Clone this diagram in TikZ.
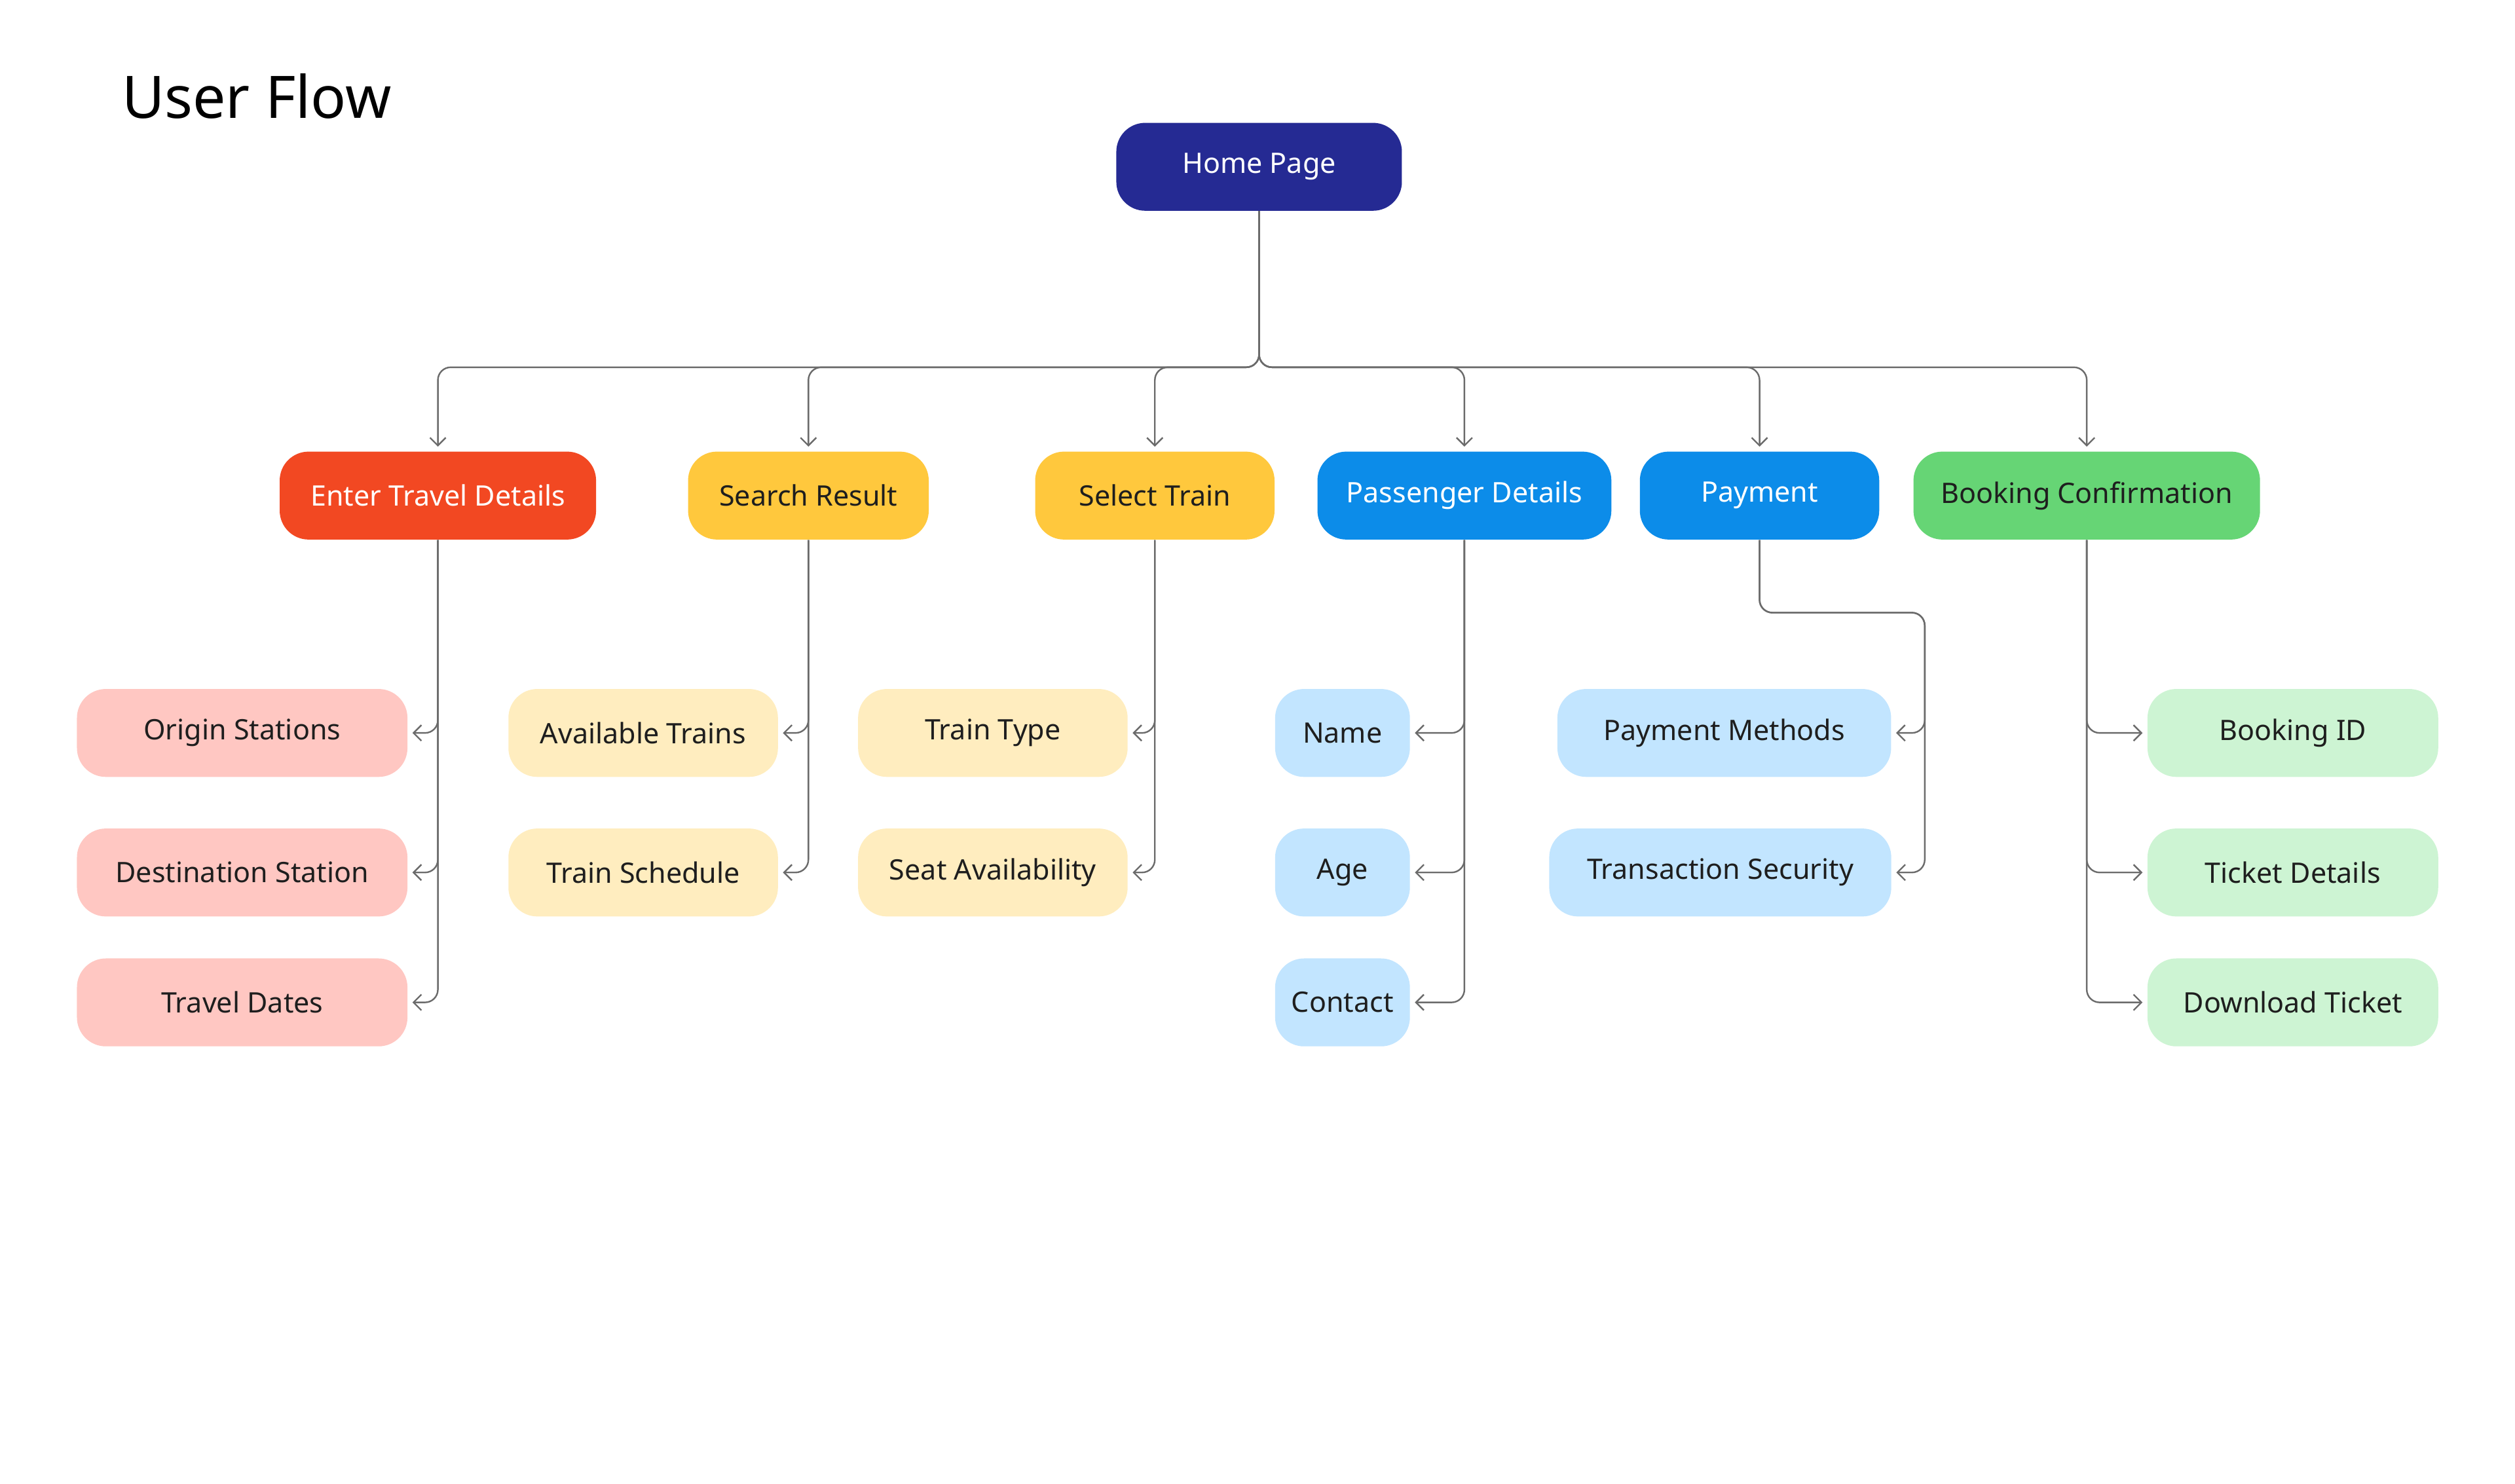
\documentclass[tikz,border=0pt]{standalone}
\usepackage{fontspec}
\setmainfont{Noto Sans}
\usetikzlibrary{arrows.meta}
\definecolor{navy}{HTML}{252A93}
\definecolor{redor}{HTML}{F24822}
\definecolor{yell}{HTML}{FFC83D}
\definecolor{blu}{HTML}{0C8CE9}
\definecolor{grn}{HTML}{66D575}
\definecolor{lred}{HTML}{FFC7C2}
\definecolor{lyel}{HTML}{FFEDBF}
\definecolor{lblu}{HTML}{C2E5FF}
\definecolor{lgrn}{HTML}{CDF4D3}
\definecolor{ink}{HTML}{1E1E1E}
\definecolor{wire}{HTML}{6B6B6B}
\tikzset{
  box/.style={rounded corners=0.45cm, minimum height=1.37cm, inner sep=0pt,
    font=\fontsize{12.5}{14}\selectfont, text=ink},
  main/.style={box, fill=#1},
  leaf/.style={box, fill=#1},
  flow/.style={draw=wire, line width=0.7pt, rounded corners=0.2cm,
    -{Straight Barb[length=3.5pt,width=7pt]}, shorten >=2pt}
}
\begin{document}
\begin{tikzpicture}[x=0.025cm, y=-0.025cm]

    \useasboundingbox (0,0) rectangle (1568,925);

    \node[anchor=west, font=\fontsize{26}{30}\selectfont\bfseries] (title) at (71,60) {User Flow};

    \node[main=navy, text=white, minimum width=4.45cm] (home) at (785,104) {Home Page};

    % level one
    \node[main=redor, text=white, minimum width=4.93cm] (etd) at (273,309) {Enter Travel Details};
    \node[main=yell, minimum width=3.75cm] (sr) at (504,309) {Search Result};
    \node[main=yell, minimum width=3.73cm] (st) at (720,309) {Select Train};
    \node[main=blu, text=white, minimum width=4.58cm] (pd) at (913,309) {Passenger Details};
    \node[main=blu, text=white, minimum width=3.73cm] (pay) at (1097,309) {Payment};
    \node[main=grn, minimum width=5.4cm] (bc) at (1301,309) {Booking Confirmation};

    % level two
    \node[leaf=lred, minimum width=5.15cm] (orig) at (151,457) {Origin Stations};
    \node[leaf=lred, minimum width=5.15cm] (dest) at (151,544) {Destination Station};
    \node[leaf=lred, minimum width=5.15cm] (dates) at (151,625) {Travel Dates};

    \node[leaf=lyel, minimum width=4.2cm] (avail) at (401,457) {Available Trains};
    \node[leaf=lyel, minimum width=4.2cm] (sched) at (401,544) {Train Schedule};

    \node[leaf=lyel, minimum width=4.2cm] (ttype) at (619,457) {Train Type};
    \node[leaf=lyel, minimum width=4.2cm] (seat) at (619,544) {Seat Availability};

    \node[leaf=lblu, minimum width=2.1cm] (name) at (837,457) {Name};
    \node[leaf=lblu, minimum width=2.1cm] (age) at (837,544) {Age};
    \node[leaf=lblu, minimum width=2.1cm] (cont) at (837,625) {Contact};

    \node[leaf=lblu, minimum width=5.2cm] (pm) at (1075,457) {Payment Methods};
    \node[leaf=lblu, minimum width=5.33cm] (ts) at (1072.5,544) {Transaction Security};

    \node[leaf=lgrn, minimum width=4.53cm] (bid) at (1429.5,457) {Booking ID};
    \node[leaf=lgrn, minimum width=4.53cm] (tick) at (1429.5,544) {Ticket Details};
    \node[leaf=lgrn, minimum width=4.53cm] (down) at (1429.5,625) {Download Ticket};

    \coordinate (bus) at (785,229);

    \foreach \n in {etd,sr,st,pd,pay,bc}
        \draw[flow] (home.south) -- (bus) -| (\n.north);

    \foreach \p/\c in {etd/orig,etd/dest,etd/dates,sr/avail,sr/sched,st/ttype,st/seat,pd/name,pd/age,pd/cont}
        \draw[flow] (\p.south) |- (\c.east);

    \coordinate (turn) at (1200,382);
    \foreach \c in {pm,ts}
        \draw[flow] (pay.south) |- (turn) |- (\c.east);

    \foreach \c in {bid,tick,down}
        \draw[flow] (bc.south) |- (\c.west);

\end{tikzpicture}
\end{document}
